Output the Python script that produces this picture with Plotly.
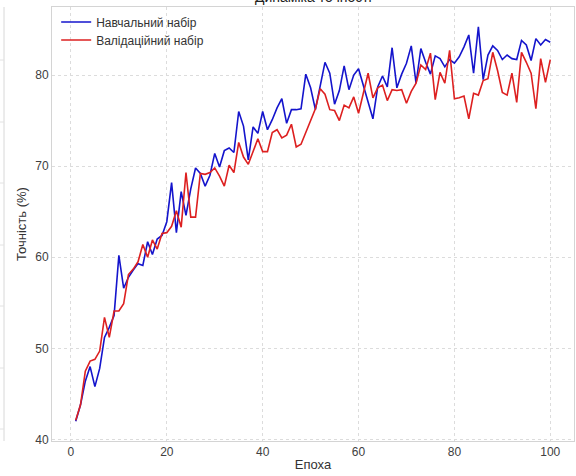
import plotly.graph_objects as go

epochs = list(range(1, 101))

train_acc = [
    42.0, 43.8, 46.4, 48.0, 45.8, 47.8, 51.2, 52.3, 53.6, 60.2,
    56.6, 57.8, 58.6, 59.3, 59.1, 61.7, 60.3, 62.0, 62.4, 63.9,
    68.2, 62.7, 67.2, 64.6, 67.5, 69.8, 69.2, 67.8, 69.0, 71.4,
    69.9, 71.7, 72.0, 71.5, 76.0, 74.4, 70.7, 74.3, 73.6, 76.0,
    74.0, 75.1, 76.4, 77.4, 74.7, 76.2, 76.2, 76.3, 80.1, 78.6,
    76.2, 78.8, 81.4, 80.2, 76.8, 78.3, 81.0, 78.4, 80.0, 80.7,
    78.8, 77.2, 75.2, 78.7, 79.9, 78.7, 83.0, 78.6, 80.1, 81.3,
    83.2, 79.1, 82.9, 81.4, 80.1, 82.1, 81.8, 80.9, 81.7, 81.3,
    82.0, 83.1, 84.4, 80.2, 85.3, 79.5, 82.2, 83.2, 82.7, 81.7,
    82.2, 81.8, 81.7, 83.8, 83.3, 81.6, 84.0, 83.3, 83.9, 83.6,
]

val_acc = [
    42.1, 43.8, 47.5, 48.6, 48.8, 49.7, 53.4, 51.2, 54.1, 54.1,
    54.9, 58.1, 58.7, 59.5, 61.4, 60.0, 61.9, 60.9, 62.6, 62.7,
    63.4, 65.1, 63.3, 69.3, 64.4, 64.4, 69.2, 69.1, 69.3, 69.8,
    68.9, 67.8, 70.1, 69.3, 72.6, 71.0, 70.2, 71.7, 73.0, 71.6,
    71.6, 73.7, 74.0, 73.1, 73.4, 74.6, 72.1, 72.4, 73.7, 75.0,
    76.3, 78.5, 77.9, 76.2, 76.1, 75.0, 76.7, 76.4, 77.6, 75.8,
    78.0, 80.2, 77.5, 78.6, 78.9, 77.2, 78.4, 78.3, 78.4, 76.9,
    78.2, 79.1, 81.1, 80.6, 82.4, 77.3, 80.3, 79.1, 82.7, 77.4,
    77.5, 77.7, 75.2, 78.0, 77.8, 79.4, 79.6, 82.5, 80.5, 78.1,
    77.8, 80.2, 77.0, 82.5, 81.4, 80.2, 76.3, 81.8, 79.2, 81.7,
]

series_names = ["Навчальний набір", "Валідаційний набір"]
title_text = "Динаміка точності"
x_title = "Епоха"
y_title = "Точність (%)"
x_ticks = [0, 20, 40, 60, 80, 100]
y_ticks = [40, 50, 60, 70, 80]

FONT = "Liberation Sans, Arial, sans-serif"

L, R, T, B = 52, 2, 7, 35
W, H = 576, 476
plot_h = H - T - B
px = lambda p: (p - L) / (W - L - R)
py = lambda p: 1 - (p - T) / plot_h

fig = go.Figure()
fig.add_trace(go.Scatter(x=epochs, y=train_acc, mode="lines", name=series_names[0],
                         line=dict(color="#1414cc", width=1.6), legend="legend"))
fig.add_trace(go.Scatter(x=epochs, y=val_acc, mode="lines", name=series_names[1],
                         line=dict(color="#dd2020", width=1.6), legend="legend2"))

axis_common = dict(
    showgrid=True, gridcolor="#dcdcdc", griddash="dot", gridwidth=1,
    showline=True, linecolor="#d4d4d4", linewidth=1, mirror=True,
    zeroline=False, ticks="",
    tickfont=dict(family=FONT, size=12, color="#404040"),
)

legend_common = dict(xanchor="left", yanchor="middle",
                     bgcolor="rgba(0,0,0,0)", borderwidth=0,
                     font=dict(family=FONT, size=12, color="#333333"),
                     itemwidth=30)

fig.update_layout(
    width=W, height=H,
    margin=dict(l=L, r=R, t=T, b=B, pad=0),
    paper_bgcolor="white", plot_bgcolor="white",
    font=dict(family=FONT, color="#333333"),
    showlegend=True,
    legend=dict(x=0.008, y=py(22), **legend_common),
    legend2=dict(x=0.008, y=py(40), **legend_common),
    xaxis=dict(range=[-3.95, 104.95], tickvals=x_ticks,
               title=dict(text=x_title, font=dict(family=FONT, size=13, color="#333333"), standoff=1),
               **axis_common),
    yaxis=dict(range=[39.83, 87.47], tickvals=y_ticks,
               title=dict(text=y_title, font=dict(family=FONT, size=13, color="#333333"), standoff=5),
               **axis_common),
)

# title (cut off at the top edge as in the reference)
fig.add_annotation(text=title_text, xref="paper", yref="paper", x=0.5, y=1 + 9.5 / plot_h,
                   xanchor="center", yanchor="middle", showarrow=False,
                   font=dict(family=FONT, size=14, color="#222222"))

# remnant of neighbouring panel on the far left
fig.add_shape(type="line", xref="paper", yref="paper", x0=px(4), x1=px(4), y0=py(441), y1=py(7),
              line=dict(color="#d8d8d8", width=1))
for yy in [60, 122, 183, 245, 306, 368, 429]:
    fig.add_shape(type="line", xref="paper", yref="paper", x0=px(0), x1=px(4), y0=py(yy), y1=py(yy),
                  line=dict(color="#e2e2e2", width=1))

fig.write_html("out.html")
